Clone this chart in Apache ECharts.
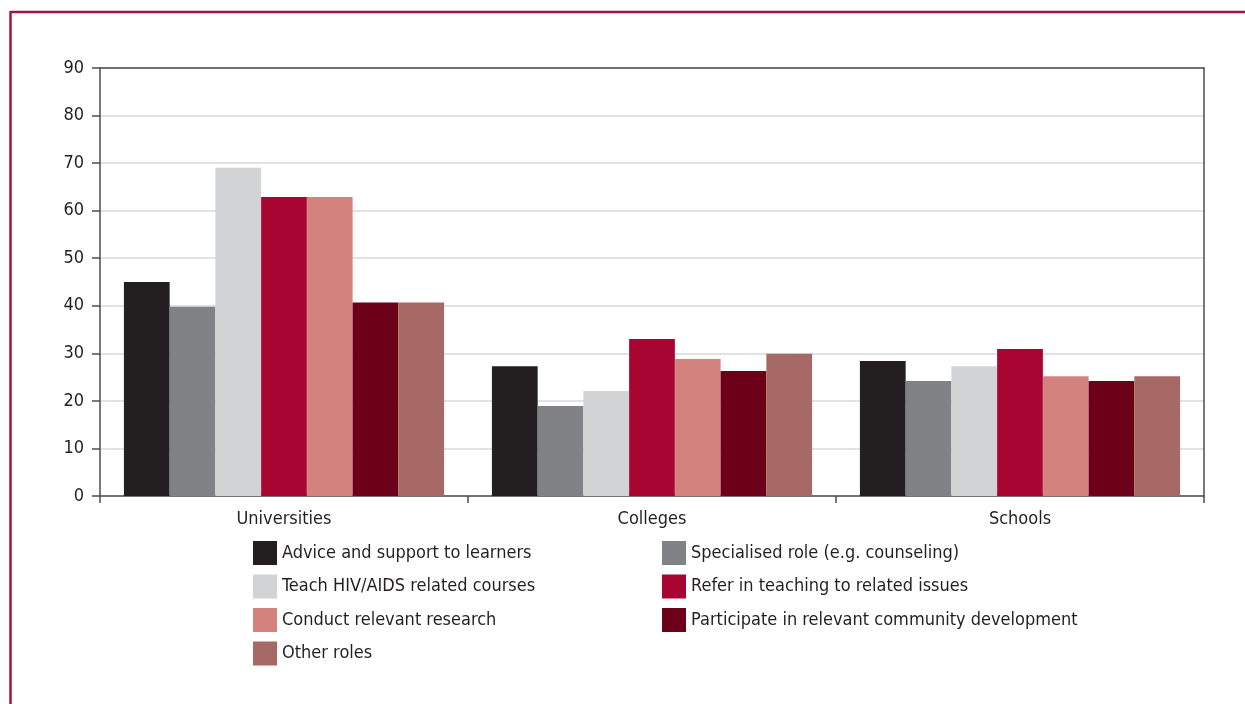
<!DOCTYPE html>
<html>
<head>
<meta charset="utf-8">
<title>Roles by institution type</title>
<script src="https://cdn.jsdelivr.net/npm/echarts@6/dist/echarts.min.js"></script>
<style>
  html, body { margin: 0; padding: 0; background: #ffffff; }
  #chart { width: 1245px; height: 704px; }
</style>
</head>
<body>
<div id="chart"></div>
<script>
// Institution types along the x axis
const categories = ['Universities', 'Colleges', 'Schools'];

// Percentage values per role, one value per institution type
const adviceSupport   = [45.0, 27.3, 28.4];
const specialisedRole = [39.8, 18.9, 24.2];
const teachCourses    = [69.0, 22.1, 27.3];
const referTeaching   = [62.9, 33.0, 30.9];
const conductResearch = [62.9, 28.8, 25.2];
const communityDev    = [40.7, 26.3, 24.2];
const otherRoles      = [40.7, 29.9, 25.2];

// Role names as shown in the legend
const roleNames = [
  'Advice and support to learners',
  'Specialised role (e.g. counseling)',
  'Teach HIV/AIDS related courses',
  'Refer in teaching to related issues',
  'Conduct relevant research',
  'Participate in relevant community development',
  'Other roles'
];

// Y axis ticks
const yTicks = [0, 10, 20, 30, 40, 50, 60, 70, 80, 90];

const roleValues = [adviceSupport, specialisedRole, teachCourses, referTeaching,
                    conductResearch, communityDev, otherRoles];
const roleColors = ['#231f20', '#808285', '#d1d3d4', '#a90533',
                    '#d3827d', '#6c0018', '#a66966'];

const FONT = "'DejaVu Sans Condensed', 'Liberation Sans Narrow', sans-serif";
const TEXT = '#231f20';
const FRAME = '#a8123e';
const AXIS = '#4d4d4d';
const FS = 18;

const chart = echarts.init(document.getElementById('chart'), null, { renderer: 'canvas' });

const series = roleNames.map((name, i) => ({
  name: name,
  type: 'bar',
  data: roleValues[i],
  itemStyle: { color: roleColors[i] },
  barGap: '0%',
  barCategoryGap: '13%',
  emphasis: { disabled: true }
}));

const legendCommon = {
  orient: 'vertical',
  icon: 'rect',
  itemWidth: 24,
  itemHeight: 24,
  itemGap: 9.5,
  selectedMode: false,
  textStyle: { fontFamily: FONT, fontSize: FS, color: TEXT }
};

chart.setOption({
  animation: false,
  backgroundColor: '#ffffff',
  textStyle: { fontFamily: FONT },
  grid: { left: 100, right: 41, top: 68, bottom: 208 },
  legend: [
    Object.assign({}, legendCommon, {
      left: 248, top: 536,
      data: [roleNames[0], roleNames[2], roleNames[4], roleNames[6]]
    }),
    Object.assign({}, legendCommon, {
      left: 657, top: 536,
      data: [roleNames[1], roleNames[3], roleNames[5]]
    })
  ],
  xAxis: [
    {
      type: 'category',
      data: categories,
      axisLine: { show: true, lineStyle: { color: AXIS, width: 1.5 } },
      axisTick: { show: true, alignWithLabel: false, length: 7, lineStyle: { color: AXIS, width: 1.5 } },
      axisLabel: { fontFamily: FONT, fontSize: FS, color: TEXT, margin: 14 },
      splitLine: { show: false }
    },
    {
      // top edge of the plot box
      type: 'category',
      data: categories,
      position: 'top',
      axisLine: { show: true, onZero: false, lineStyle: { color: AXIS, width: 1.5 } },
      axisTick: { show: false },
      axisLabel: { show: false },
      splitLine: { show: false },
      z: 5
    }
  ],
  yAxis: [
    {
      type: 'value',
      min: yTicks[0],
      max: yTicks[yTicks.length - 1],
      interval: yTicks[1] - yTicks[0],
      axisLine: { show: true, lineStyle: { color: AXIS, width: 1.5 } },
      axisTick: { show: true, length: 8, lineStyle: { color: AXIS, width: 1.5 } },
      axisLabel: { fontFamily: FONT, fontSize: FS, color: TEXT, margin: 16 },
      splitLine: { show: true, lineStyle: { color: '#d9d9d9', width: 1.5 } }
    },
    {
      // right edge of the plot box
      type: 'value',
      position: 'right',
      min: yTicks[0],
      max: yTicks[yTicks.length - 1],
      interval: yTicks[1] - yTicks[0],
      axisLine: { show: true, onZero: false, lineStyle: { color: AXIS, width: 1.5 } },
      axisTick: { show: false },
      axisLabel: { show: false },
      splitLine: { show: false },
      z: 5
    }
  ],
  series: series,
  graphic: [
    // crimson frame: top rule and left rule
    { type: 'line', silent: true, z: 10,
      shape: { x1: 10, y1: 12, x2: 1245, y2: 12 },
      style: { stroke: FRAME, lineWidth: 2.5 } },
    { type: 'line', silent: true, z: 10,
      shape: { x1: 10.5, y1: 11, x2: 10.5, y2: 704 },
      style: { stroke: FRAME, lineWidth: 2.5 } }
  ]
});
</script>
</body>
</html>
